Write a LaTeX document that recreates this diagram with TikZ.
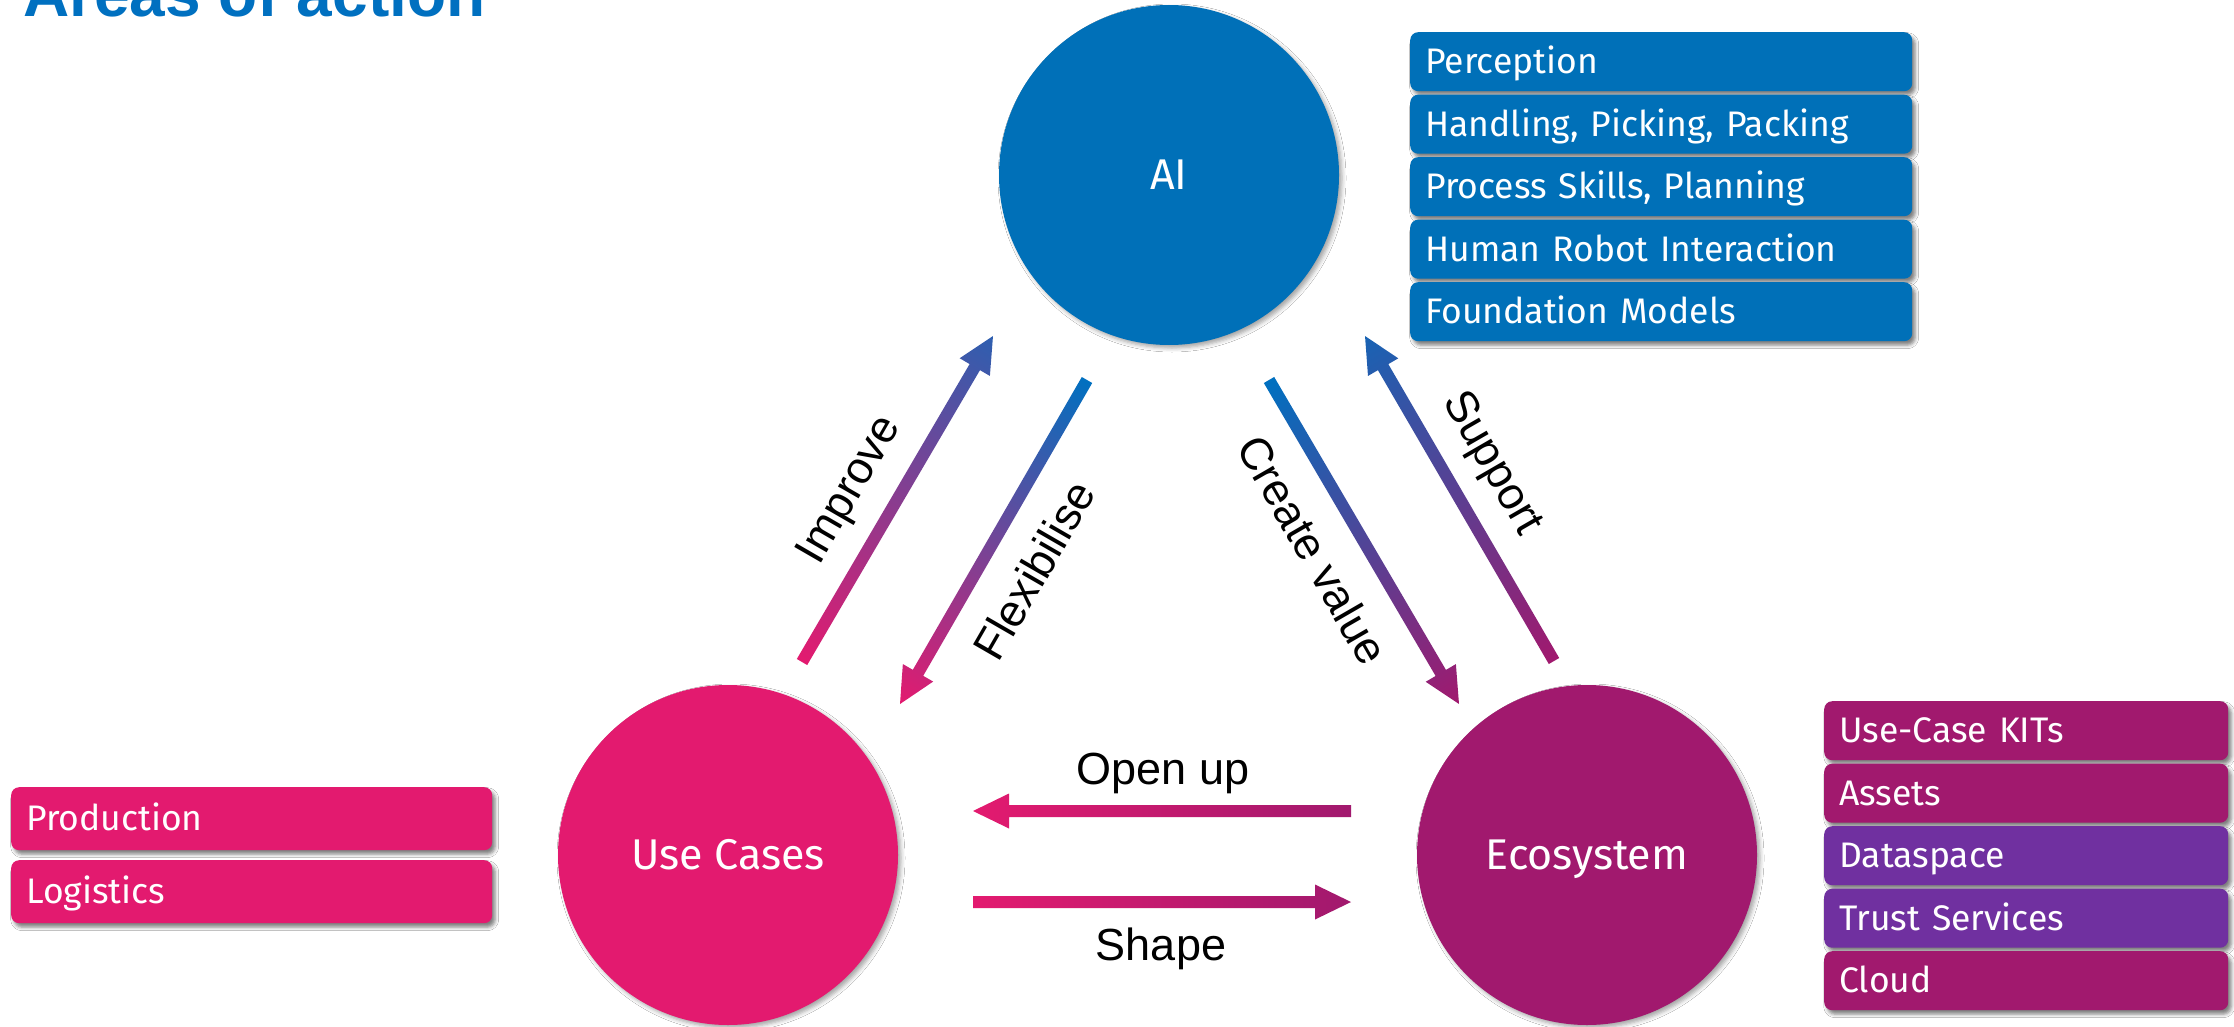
\documentclass[tikz,border=0pt]{standalone}
\usepackage{fontspec}
\setmainfont{Fira Sans}
\newfontfamily\arialfont{Liberation Sans}
\usetikzlibrary{shadows,shadows.blur}
\definecolor{aiblue}{RGB}{0,112,184}
\definecolor{ucpink}{RGB}{227,26,111}
\definecolor{ecomag}{RGB}{161,25,110}
\definecolor{dspurple}{RGB}{112,48,160}
\definecolor{titleblue}{RGB}{0,112,192}
\definecolor{arrowblue}{RGB}{0,112,192}

\newcommand\gradarrow[4]{%
  \path (#1); \pgfgetlastxy{\gax}{\gay}%
  \path (#2); \pgfgetlastxy{\gbx}{\gby}%
  \pgfmathsetmacro\gang{atan2((\gby)-(\gay),(\gbx)-(\gax))}%
  \pgfmathsetmacro\glen{veclen((\gbx)-(\gax),(\gby)-(\gay))}%
  \pgfmathsetmacro\gbase{\glen-36}%
  \begin{scope}[transform canvas={shift={(\gax,\gay)},rotate=\gang}]
    \shade[left color=#3,right color=#4]
      (0pt,-6pt) -- (\gbase pt,-6pt) -- (\gbase pt,-17.5pt) -- (\glen pt,0pt)
      -- (\gbase pt,17.5pt) -- (\gbase pt,6pt) -- (0pt,6pt) -- cycle;
  \end{scope}%
}

\begin{document}
\begin{tikzpicture}[x=1pt,y=-1pt,
  hub/.style={circle,minimum size=340pt,inner sep=0pt,text=white,
    font=\fontsize{43}{50}\selectfont,text height=29.6pt,text depth=0pt,
    blur shadow={shadow xshift=3pt,shadow yshift=-3pt,shadow blur radius=4pt,shadow opacity=35}},
  itembox/.style={anchor=north west,rounded corners=8pt,minimum height=59pt,inner ysep=0pt,
    inner xsep=15pt,align=left,text=white,font=\fontsize{35.5}{42}\selectfont,
    text height=24.5pt,text depth=0pt,
    blur shadow={shadow xshift=3pt,shadow yshift=-4pt,shadow blur radius=3.5pt,shadow opacity=50}},
  aibox/.style={itembox,fill=aiblue,text width=472pt},
  ecobox/.style={itembox,fill=ecomag,text width=374pt},
  dsbox/.style={itembox,fill=dspurple,text width=374pt},
  ucbox/.style={itembox,fill=ucpink,text width=451pt,minimum height=63pt},
  lbl/.style={inner sep=0pt,font=\arialfont\fontsize{45}{54}\selectfont}
]
\useasboundingbox[fill=white] (0,0) rectangle (2234,1027);

% title (cut at the top edge)
\node[anchor=base west,inner sep=0pt,text=titleblue,
  font=\arialfont\bfseries\fontsize{64}{70}\selectfont] (title) at (23,17) {Areas of action};

% hubs
\node[hub,fill=aiblue] (ai) at (1169,175) {AI};
\node[hub,fill=ucpink] (uc) at (728,855) {Use Cases};
\node[hub,fill=ecomag] (eco) at (1587,855) {Ecosystem};

% AI list
\node[aibox] (perc) at (1410,32) {Perception};
\node[aibox] (hand) at (1410,94.5) {Handling, Picking, Packing};
\node[aibox] (proc) at (1410,157) {Process Skills, Planning};
\node[aibox] (hri) at (1410,219.5) {Human Robot Interaction};
\node[aibox] (fm) at (1410,282) {Foundation Models};

% Ecosystem list
\node[ecobox] (kits) at (1824,701) {Use-Case KITs};
\node[ecobox] (assets) at (1824,763.5) {Assets};
\node[dsbox] (ds) at (1824,826) {Dataspace};
\node[dsbox] (trust) at (1824,888.5) {Trust Services};
\node[ecobox] (cloud) at (1824,951) {Cloud};

% Use case list
\node[ucbox] (prod) at (11,787) {Production};
\node[ucbox] (logi) at (11,860) {Logistics};

% arrow end points
\coordinate (imp-a) at (802,662);  \coordinate (imp-b) at (993,336);
\coordinate (flx-a) at (1087,380); \coordinate (flx-b) at (900,704);
\coordinate (cv-a) at (1269,380);  \coordinate (cv-b) at (1459,704);
\coordinate (sup-a) at (1554,661); \coordinate (sup-b) at (1365,336);
\coordinate (op-a) at (1351,811);  \coordinate (op-b) at (973,811);
\coordinate (sh-a) at (973,902);   \coordinate (sh-b) at (1351,902);

\gradarrow{imp-a}{imp-b}{ucpink}{arrowblue!80!ucpink}
\gradarrow{flx-a}{flx-b}{arrowblue}{ucpink}
\gradarrow{cv-a}{cv-b}{arrowblue}{ecomag}
\gradarrow{sup-a}{sup-b}{ecomag}{arrowblue!85!ecomag}
\gradarrow{op-a}{op-b}{ecomag}{ucpink}
\gradarrow{sh-a}{sh-b}{ucpink}{ecomag}

% labels
\node[lbl,rotate=60] (limp) at (851,491) {Improve};
\node[lbl,rotate=60] (lflx) at (1034,570) {Flexibilise};
\node[lbl,rotate=-60] (lcv) at (1313,550) {Create value};
\node[lbl,rotate=-60] (lsup) at (1491,464) {Support};
\node[lbl,anchor=base] (lop) at (1163,784) {Open up};
\node[lbl,anchor=base] (lsh) at (1161,960) {Shape};
\end{tikzpicture}
\end{document}
